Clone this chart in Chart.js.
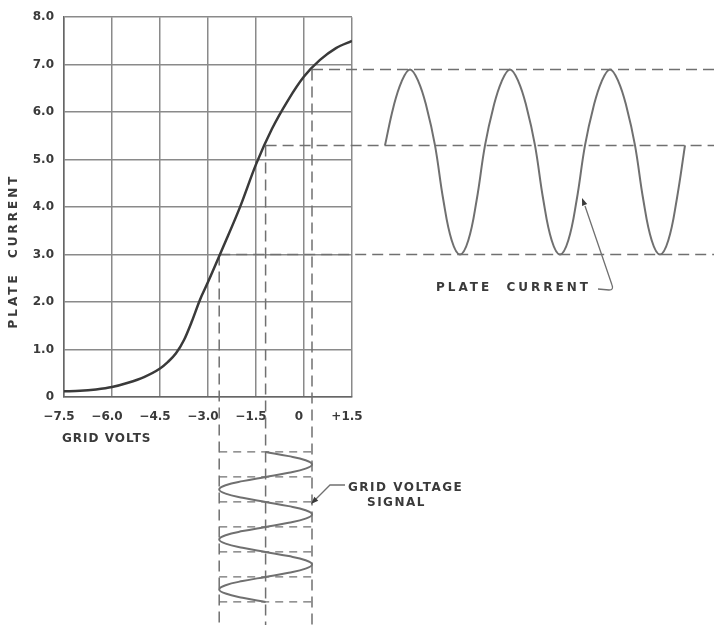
<!DOCTYPE html>
<html>
<head>
<meta charset="utf-8">
<script src="https://cdn.jsdelivr.net/npm/chart.js@4"></script>
<style>
  html, body { margin: 0; padding: 0; background: #fff; }
  #wrap { width: 714px; height: 625px; }
</style>
</head>
<body>
<div id="wrap"><canvas id="chart" width="714" height="625"></canvas></div>
<script>
// transfer curve
const gridVolts    = [-7.5, -7.0, -6.5, -6.0, -5.5, -5.0, -4.5, -4.25, -4.0, -3.75, -3.5, -3.25, -3.0, -2.5, -2.0, -1.5, -1.0, -0.5, 0.0, 0.5, 1.0, 1.5];
const plateCurrent = [0.12, 0.13, 0.16, 0.21, 0.30, 0.42, 0.60, 0.74, 0.92, 1.20, 1.60, 2.05, 2.42, 3.20, 4.00, 4.90, 5.65, 6.25, 6.75, 7.10, 7.35, 7.50];

const xTickValues = [-7.5, -6.0, -4.5, -3.0, -1.5, 0, 1.5];
const xTickLabels = ['\u22127.5', '\u22126.0', '\u22124.5', '\u22123.0', '\u22121.5', '0', '+1.5'];
const yTickLabels = ['0', '1.0', '2.0', '3.0', '4.0', '5.0', '6.0', '7.0', '8.0'];

// swing of the grid signal (min, bias, max) and plate current it gives
const swingVolts   = [-2.65, -1.2, 0.25];
const swingCurrent = [3.0, 5.3, 6.9];

// one sample every 30 degrees, three cycles
const plateWave = [
  5.3, 6.1, 6.65, 6.9, 6.65, 6.1, 5.3, 4.15, 3.3, 3.0, 3.3, 4.15,
  5.3, 6.1, 6.65, 6.9, 6.65, 6.1, 5.3, 4.15, 3.3, 3.0, 3.3, 4.15,
  5.3, 6.1, 6.65, 6.9, 6.65, 6.1, 5.3, 4.15, 3.3, 3.0, 3.3, 4.15,
  5.3
];
const gridWave = [
  -1.2, -0.48, 0.05, 0.25, 0.05, -0.48, -1.2, -1.92, -2.45, -2.65, -2.45, -1.92,
  -1.2, -0.48, 0.05, 0.25, 0.05, -0.48, -1.2, -1.92, -2.45, -2.65, -2.45, -1.92,
  -1.2, -0.48, 0.05, 0.25, 0.05, -0.48, -1.2, -1.92, -2.45, -2.65, -2.45, -1.92,
  -1.2
];
const gridCrossings = [0, 6, 12, 18, 24, 30, 36];

const W = 714, H = 625;
const PLOT = { left: 64, top: 17, right: 352, bottom: 397 };
const PLATE_WAVE = { x0: 385, stepPx: 100 / 12 };
const GRID_WAVE = { y0: 452, stepPx: 50 / 12 };

const INK = '#3a3a3a';
const GRID = '#8a8a8a';
const WAVE = '#707070';
const FONT = '"DejaVu Sans", "Liberation Sans", sans-serif';

const xpMin = -(PLATE_WAVE.x0 - PLOT.left) / PLATE_WAVE.stepPx;
const xpMax = xpMin + (PLOT.right - PLOT.left) / PLATE_WAVE.stepPx;
const ygMin = -(GRID_WAVE.y0 - PLOT.top) / GRID_WAVE.stepPx;
const ygMax = ygMin + (PLOT.bottom - PLOT.top) / GRID_WAVE.stepPx;

const guides = {
  id: 'guides',
  beforeDraw(chart) {
    const ctx = chart.ctx;
    ctx.save();
    ctx.fillStyle = '#fff';
    ctx.fillRect(0, 0, chart.width, chart.height);
    ctx.restore();
  },
  beforeDatasetsDraw(chart) {
    const { ctx, scales: { x, y, yg } } = chart;
    ctx.save();
    ctx.strokeStyle = WAVE;
    ctx.lineWidth = 1.5;
    ctx.setLineDash([11, 6]);
    swingVolts.forEach((v, i) => {
      const px = x.getPixelForValue(v), py = y.getPixelForValue(swingCurrent[i]);
      ctx.beginPath(); ctx.moveTo(px, py); ctx.lineTo(px, chart.height); ctx.stroke();
      ctx.beginPath(); ctx.moveTo(px, py); ctx.lineTo(chart.width, py); ctx.stroke();
    });
    ctx.setLineDash([8, 6]);
    ctx.lineWidth = 1.2;
    const xl = x.getPixelForValue(swingVolts[0]), xr = x.getPixelForValue(swingVolts[2]);
    gridCrossings.forEach(t => {
      const py = yg.getPixelForValue(t);
      ctx.beginPath(); ctx.moveTo(xl, py); ctx.lineTo(xr, py); ctx.stroke();
    });
    ctx.restore();
  },
  afterDraw(chart) {
    const ctx = chart.ctx;
    ctx.save();
    ctx.fillStyle = INK;
    ctx.strokeStyle = WAVE;
    ctx.font = 'bold 12px ' + FONT;
    ctx.textBaseline = 'middle';
    ctx.letterSpacing = '3px';

    ctx.save();
    ctx.translate(14, 251);
    ctx.rotate(-Math.PI / 2);
    ctx.textAlign = 'center';
    ctx.fillText('PLATE  CURRENT', 0, 0);
    ctx.restore();

    ctx.letterSpacing = '1px';
    ctx.textAlign = 'left';
    ctx.fillText('GRID VOLTS', 62, 439);

    ctx.letterSpacing = '3px';
    ctx.fillText('PLATE  CURRENT', 436, 288);
    ctx.letterSpacing = '1.5px';
    ctx.fillText('GRID VOLTAGE', 348, 488);
    ctx.fillText('SIGNAL', 367, 503);

    ctx.lineWidth = 1.3;
    ctx.beginPath();
    ctx.moveTo(598, 289); ctx.lineTo(609, 290); ctx.quadraticCurveTo(614, 290, 612, 285);
    ctx.lineTo(585, 206);
    ctx.stroke();
    arrow(ctx, 585, 206, 582, 198);

    ctx.beginPath();
    ctx.moveTo(345, 485); ctx.lineTo(330, 485); ctx.lineTo(315, 500);
    ctx.stroke();
    arrow(ctx, 316, 499, 311, 504);
    ctx.restore();
  }
};

function arrow(ctx, x0, y0, x1, y1) {
  const a = Math.atan2(y1 - y0, x1 - x0), L = 8, s = 0.35;
  ctx.save();
  ctx.fillStyle = INK;
  ctx.beginPath();
  ctx.moveTo(x1, y1);
  ctx.lineTo(x1 - L * Math.cos(a - s), y1 - L * Math.sin(a - s));
  ctx.lineTo(x1 - L * Math.cos(a + s), y1 - L * Math.sin(a + s));
  ctx.closePath();
  ctx.fill();
  ctx.restore();
}

new Chart(document.getElementById('chart'), {
  type: 'line',
  data: {
    datasets: [
      {
        data: gridVolts.map((v, i) => ({ x: v, y: plateCurrent[i] })),
        borderColor: INK, borderWidth: 2.5, pointRadius: 0,
        cubicInterpolationMode: 'monotone', xAxisID: 'x', yAxisID: 'y'
      },
      {
        // indexAxis 'y' so the points lying outside the plot box are not culled
        data: plateWave.map((v, i) => ({ x: i, y: v })),
        indexAxis: 'y',
        borderColor: WAVE, borderWidth: 2, pointRadius: 0, tension: 0.4,
        clip: false, xAxisID: 'xp', yAxisID: 'y'
      },
      {
        data: gridWave.map((v, i) => ({ x: v, y: i })),
        borderColor: WAVE, borderWidth: 2, pointRadius: 0, tension: 0.4,
        clip: false, xAxisID: 'x', yAxisID: 'yg'
      }
    ]
  },
  options: {
    responsive: false,
    animation: false,
    events: [],
    layout: { padding: { left: 0, top: PLOT.top, right: W - PLOT.right, bottom: 0 } },
    plugins: { legend: { display: false }, tooltip: { enabled: false } },
    scales: {
      x: {
        type: 'linear', min: -7.5, max: 1.5,
        afterBuildTicks: s => { s.ticks = xTickValues.map(v => ({ value: v })); },
        afterFit: s => { s.height = H - PLOT.bottom; },
        ticks: {
          callback: (v, i) => xTickLabels[i], padding: 13, labelOffset: -5,
          maxRotation: 0, autoSkip: false,
          color: INK, font: { family: FONT, size: 12, weight: 'bold' }
        },
        grid: { color: GRID, lineWidth: 1.5, drawTicks: false },
        border: { color: '#666', width: 1.5 }
      },
      y: {
        type: 'linear', min: 0, max: 8,
        afterFit: s => { s.width = PLOT.left; },
        ticks: {
          stepSize: 1, callback: (v, i) => yTickLabels[i], padding: 10,
          color: INK, font: { family: FONT, size: 12, weight: 'bold' }
        },
        grid: { color: GRID, lineWidth: 1.5, drawTicks: false },
        border: { color: '#666', width: 1.5 }
      },
      xp: { type: 'linear', display: false, min: xpMin, max: xpMax },
      yg: { type: 'linear', display: false, reverse: true, min: ygMin, max: ygMax }
    }
  },
  plugins: [guides]
});
</script>
</body>
</html>
